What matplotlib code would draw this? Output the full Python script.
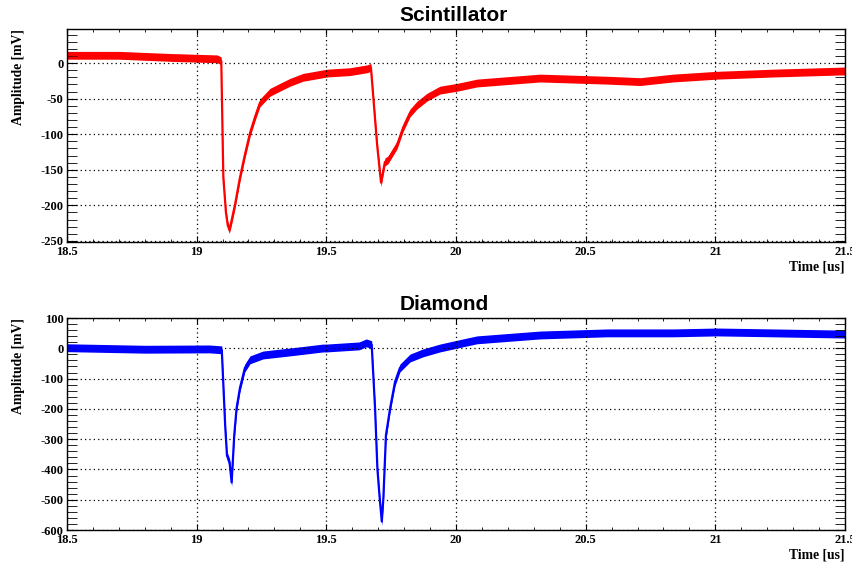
"""Scintillator vs diamond waveform, ROOT-like two-panel scope trace."""

import matplotlib.pyplot as plt
from matplotlib.ticker import MultipleLocator

# Scintillator trace: time [us], amplitude [mV]
scint_time = [18.50, 18.70, 18.90, 19.08, 19.095, 19.103, 19.113, 19.120, 19.126,
              19.132, 19.148, 19.167, 19.186, 19.206, 19.225, 19.244, 19.283, 19.321,
              19.360, 19.410, 19.503, 19.591, 19.657, 19.672, 19.696, 19.711, 19.726,
              19.738, 19.773, 19.796, 19.823, 19.850, 19.888, 19.938, 20.004, 20.081,
              20.324, 20.583, 20.710, 20.837, 21.007, 21.223, 21.50]
scint_amp = [11, 11, 8, 6, 3, -161, -210, -228, -234,
             -226, -199, -161, -129, -98, -76, -56, -41, -34,
             -27, -20, -14, -12, -8, -6, -115, -168, -139,
             -136, -115, -91, -70, -59, -48, -38, -34, -28,
             -21, -24, -26, -21, -17, -14, -11]

# Diamond trace
diam_time = [18.50, 18.80, 19.05, 19.097, 19.110, 19.117, 19.127, 19.135, 19.145,
             19.154, 19.167, 19.186, 19.206, 19.256, 19.360, 19.487, 19.500, 19.627,
             19.654, 19.675, 19.688, 19.697, 19.705, 19.714, 19.720, 19.730, 19.746,
             19.765, 19.784, 19.823, 19.873, 19.938, 20.027, 20.081, 20.324, 20.583,
             20.837, 21.007, 21.223, 21.50]
diam_amp = [2, -3, -2, -5, -254, -354, -377, -443, -287,
            -198, -131, -65, -38, -22, -12, 1, 1, 8,
            18, 12, -198, -397, -486, -572, -496, -287, -198,
            -111, -65, -32, -15, 1, 18, 28, 44, 51,
            51, 54, 51, 47]

x_major = 0.5
x_minor = 0.1


def style_axes(ax, title, ylim, y_major, y_minor):
    tick_font = {"family": "Liberation Serif", "weight": "bold", "size": 9}
    ax.set_xlim(18.5, 21.5)
    ax.set_ylim(*ylim)
    ax.xaxis.set_major_locator(MultipleLocator(x_major))
    ax.xaxis.set_minor_locator(MultipleLocator(x_minor))
    ax.yaxis.set_major_locator(MultipleLocator(y_major))
    ax.yaxis.set_minor_locator(MultipleLocator(y_minor))
    ax.tick_params(which="both", direction="in", top=True, right=True, colors="black")
    ax.tick_params(axis="x", which="major", length=4.5, pad=3)
    ax.tick_params(axis="x", which="minor", length=2.5)
    ax.tick_params(axis="y", which="major", length=7.5, pad=2.5)
    ax.tick_params(axis="y", which="minor", length=7)
    for lab in ax.get_xticklabels() + ax.get_yticklabels():
        lab.set_fontproperties(tick_font)
    ax.xaxis.set_major_formatter(plt.FuncFormatter(lambda v, p: f"{v:g}"))
    ax.yaxis.set_major_formatter(plt.FuncFormatter(lambda v, p: f"{v:g}"))
    ax.grid(True, which="major", color="black", linestyle=(0, (1, 2.5)), linewidth=0.9)
    for sp in ax.spines.values():
        sp.set_linewidth(1.0)

    # ROOT title box is left-aligned a bit left of the pad centre
    ax.set_title(title, family="Liberation Sans", weight="bold", fontsize=15,
                 pad=6, loc="left", x=0.427)
    ax.set_ylabel("Amplitude [mV]", family="Liberation Serif", weight="bold",
                  fontsize=9.8, loc="top")
    ax.yaxis.set_label_coords(-0.054, 1.0)
    ax.set_xlabel("Time [us]", family="Liberation Serif", weight="bold",
                  fontsize=9.8, loc="right")
    ax.xaxis.label.set_va("center")
    ax.xaxis.set_label_coords(1.0, -0.116)


fig = plt.figure(figsize=(8.53, 5.65), dpi=100)
ax_top = fig.add_axes([0.0785, 0.5717, 0.9121, 0.377])
ax_bot = fig.add_axes([0.0785, 0.0619, 0.9121, 0.3752])

# noise band half-widths, mV
scint_noise = 5.5
diam_noise = 13

scint_lo = [a - scint_noise for a in scint_amp]
scint_hi = [a + scint_noise for a in scint_amp]
ax_top.fill_between(scint_time, scint_lo, scint_hi, color="red", linewidth=0)
ax_top.plot(scint_time, scint_amp, color="red", linewidth=1.6)
style_axes(ax_top, "Scintillator", (-251.5, 48), 50, 10)

diam_lo = [a - diam_noise for a in diam_amp]
diam_hi = [a + diam_noise for a in diam_amp]
ax_bot.fill_between(diam_time, diam_lo, diam_hi, color="blue", linewidth=0)
ax_bot.plot(diam_time, diam_amp, color="blue", linewidth=1.6)
style_axes(ax_bot, "Diamond", (-600, 100), 100, 20)

fig.savefig("out.png", dpi=100)
